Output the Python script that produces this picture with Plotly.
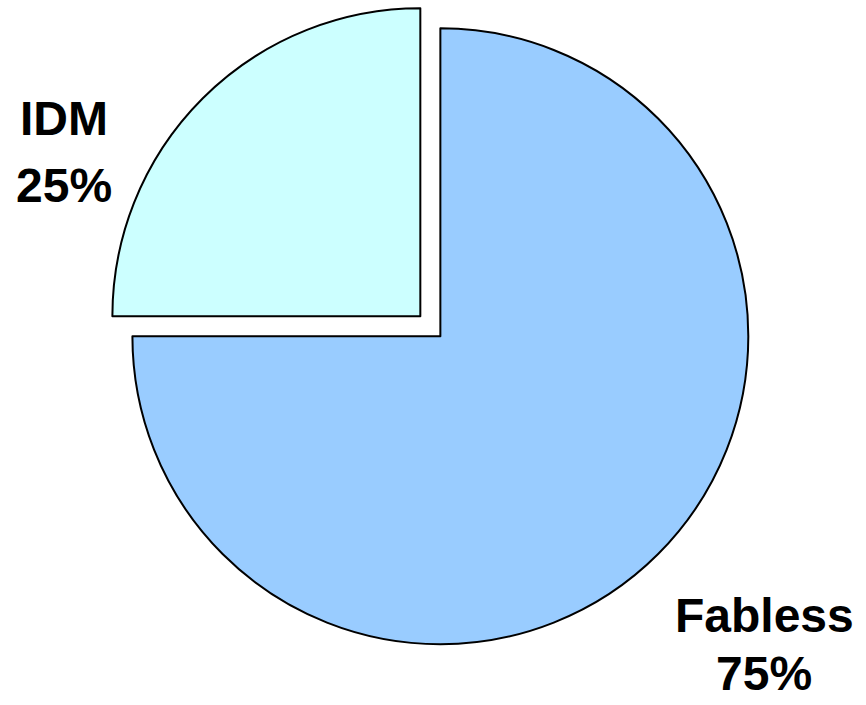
import plotly.graph_objects as go

labels = ["IDM", "Fabless"]
values = [25, 75]
colors = ["#CCFFFF", "#99CCFF"]
pulls = [0.092, 0]

W, H = 866, 705

fig = go.Figure(go.Pie(
    labels=labels,
    values=values,
    sort=False,
    direction="clockwise",
    rotation=-90,
    pull=pulls,
    marker=dict(colors=colors, line=dict(color="black", width=2)),
    textinfo="none",
    hoverinfo="label+percent",
    showlegend=False,
    domain=dict(x=[0.1, 0.917], y=[0.046, 1.0]),
))

total = sum(values)
label_pos = {"IDM": (64, 118, 186), "Fabless": (764, 615, 673)}
font = dict(family="Liberation Sans, Arial, sans-serif", size=48, color="black")
annotations = []
for lab, val in zip(labels, values):
    x, y1, y2 = label_pos[lab]
    pct = f"{round(100 * val / total)}%"
    annotations.append(dict(text=f"<b>{lab}</b>", x=x / W, y=1 - y1 / H, xref="paper", yref="paper",
                            xanchor="center", yanchor="middle", showarrow=False, font=font))
    annotations.append(dict(text=f"<b>{pct}</b>", x=x / W, y=1 - y2 / H, xref="paper", yref="paper",
                            xanchor="center", yanchor="middle", showarrow=False, font=font))

fig.update_layout(
    width=W, height=H,
    margin=dict(l=0, r=0, t=0, b=0),
    paper_bgcolor="white",
    plot_bgcolor="white",
    annotations=annotations,
)

fig.write_html("out.html", config={"displayModeBar": False},
               post_script="document.body.style.margin='0';")
